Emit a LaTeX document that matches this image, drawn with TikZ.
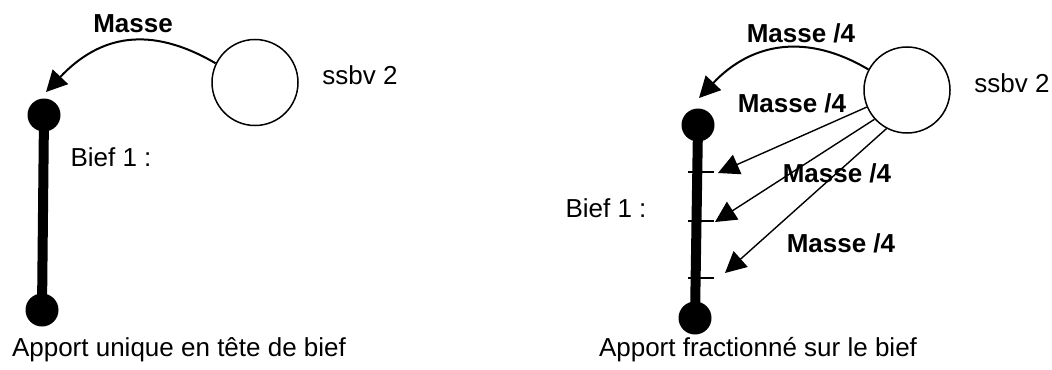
\documentclass[tikz,border=0pt]{standalone}
\usepackage{fontspec}
\setmainfont{Liberation Sans}
\usetikzlibrary{arrows.meta,positioning,calc}
\tikzset{
  ssbv/.style={circle,draw=black,line width=0.75pt,fill=white,minimum size=43pt,inner sep=0pt},
  extremite/.style={circle,fill=black,minimum size=16.5pt,inner sep=0pt},
  bief/.style={line width=5pt},
  graduation/.style={line width=0.7pt},
  apport/.style={-{Triangle[length=10.5pt,width=10.5pt]},line width=0.7pt},
  apportc/.style={apport,line width=1pt},
  txt/.style={font=\fontsize{13}{15}\selectfont,inner sep=0pt},
  txtb/.style={font=\fontsize{13}{15}\selectfont\bfseries,inner sep=0pt},
}
\begin{document}
\begin{tikzpicture}[x=0.5pt,y=-0.5pt]
  \useasboundingbox (0,0) rectangle (1052,369);
  % --- apport unique ---
  \node[extremite] (h1) at (44,115) {};
  \node[extremite] (b1) at (42,310) {};
  \draw[bief] (h1.center) -- (b1.center);
  \node[ssbv] (s1) at (255,82.5) {};
  \node[txt] (n1) at (360,75) {ssbv 2};
  \node[txt] (bl1) at (111,157) {Bief 1 :};
  \coordinate (a1) at (46,92);
  \draw[apportc] (s1.154) .. controls (150,25) and (100,35) .. (a1);
  \node[txtb] (m1) at (133,24) {Masse};
  \node[txt] (c1) at (179,350) {Apport unique en tête de bief};
  % --- apport fractionne ---
  \node[extremite] (h2) at (698,125) {};
  \node[extremite] (b2) at (695,318) {};
  \draw[bief] (h2.center) -- (b2.center);
  \foreach \y in {172,221,278} \draw[graduation] (688,\y) -- (714,\y);
  \node[ssbv] (s2) at (907,90) {};
  \node[txt] (n2) at (1012,83) {ssbv 2};
  \node[txt] (bl2) at (606,208) {Bief 1 :};
  \coordinate (a2) at (699,98);
  \draw[apportc] (s2.152) .. controls (807,33) and (752,42) .. (a2);
  \foreach \ang/\x/\y [count=\i] in {203.5/718/173,222/715/222,242/725/273}{
    \coordinate (p\i) at (\x,\y);
    \draw[apport] (s2.\ang) -- (p\i);
  }
  \foreach \x/\y [count=\i] in {801/33,792/103,837/173,841/243}
    \node[txtb] (m2\i) at (\x,\y) {Masse /4};
  \node[txt] (c2) at (758,350) {Apport fractionné sur le bief};
\end{tikzpicture}
\end{document}
